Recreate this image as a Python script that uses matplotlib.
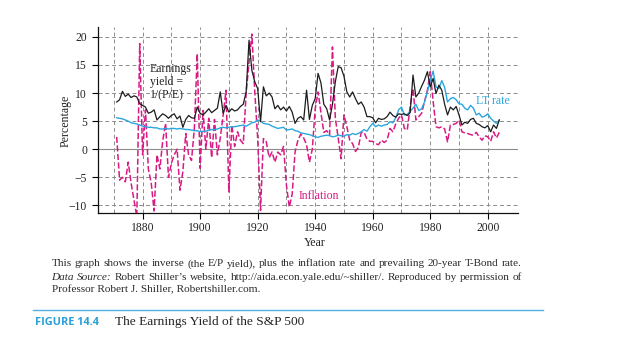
import matplotlib
matplotlib.use("Agg")
import matplotlib.pyplot as plt
from matplotlib.lines import Line2D

# ---------------------------------------------------------------- data
years = list(range(1871, 2005))

earnings_yield = [
    8.4, 8.8, 10.3, 9.4, 9.8, 9.2, 9.5, 9.3, 8.1, 7.8,      # 1871-1880
    7.5, 6.4, 6.6, 7.0, 5.2, 5.8, 6.3, 6.0, 5.5, 6.0,       # 1881-1890
    6.3, 5.4, 5.9, 3.9, 5.3, 6.0, 5.6, 5.5, 7.5, 6.4,       # 1891-1900
    6.1, 6.6, 7.2, 6.5, 6.9, 7.3, 10.2, 6.4, 7.8, 6.6,      # 1901-1910
    7.2, 6.8, 7.0, 7.6, 8.0, 10.2, 19.4, 14.0, 12.0, 10.8,  # 1911-1920
    4.9, 11.1, 9.5, 10.0, 9.3, 7.2, 7.8, 7.0, 7.5, 6.8,     # 1921-1930
    7.6, 6.6, 4.6, 5.5, 5.8, 5.2, 10.5, 5.3, 7.8, 9.0,      # 1931-1940
    13.5, 11.8, 8.0, 7.2, 5.2, 8.0, 12.0, 14.7, 14.5, 13.0, # 1941-1950
    10.2, 9.3, 10.2, 9.0, 8.0, 8.4, 7.5, 5.8, 5.8, 5.6,     # 1951-1960
    4.7, 5.5, 5.3, 5.4, 5.8, 6.6, 6.0, 5.7, 6.3, 6.2,       # 1961-1970
    6.3, 6.0, 6.5, 13.2, 9.3, 10.0, 11.2, 12.3, 13.8, 11.1, # 1971-1980
    12.6, 9.9, 11.4, 10.5, 8.0, 6.1, 7.5, 7.0, 7.6, 6.1,    # 1981-1990
    4.3, 4.8, 4.6, 5.3, 5.5, 4.6, 4.4, 4.0, 3.8, 4.2,       # 1991-2000
    3.1, 4.3, 3.7, 5.2,                                     # 2001-2004
]

inflation = [
    2.2, -5.5, -5.0, -5.8, -2.3, -6.0, -9.0, -12.0, 18.8, -1.0,  # 1871-1880
    7.0, -3.5, -6.0, -11.0, -1.0, -3.5, 1.5, 4.6, -5.0, -2.5,    # 1881-1890
    -1.0, 0.0, -7.3, -4.0, 2.8, -1.0, -2.0, 3.7, 17.0, -3.4,     # 1891-1900
    6.9, 0.0, 5.5, -1.5, 5.3, -1.0, 2.0, 6.0, 10.5, -7.6,        # 1901-1910
    4.3, 0.5, 3.1, 1.6, 1.0, 10.0, 15.5, 20.5, 10.2, 2.0,        # 1911-1920
    -10.9, 1.9, 1.3, -1.5, -0.5, -2.3, -0.5, -1.0, 0.5, -6.4,    # 1921-1930
    -10.3, -8.0, -0.5, 1.6, 2.7, 2.0, 0.8, -2.3, 0.0, 7.2,       # 1931-1940
    10.2, 6.5, 3.0, 3.3, 2.5, 18.2, 5.5, 2.0, -1.7, 6.1,         # 1941-1950
    4.0, 1.6, 1.0, -0.4, 0.3, 3.0, 3.0, 1.8, 1.4, 1.4,           # 1951-1960
    1.0, 0.8, 1.6, 1.2, 1.6, 3.7, 3.1, 4.5, 5.5, 6.1,            # 1961-1970
    3.7, 3.4, 7.5, 10.8, 5.2, 5.8, 6.4, 8.5, 10.5, 13.8,         # 1971-1980
    8.5, 4.0, 3.8, 4.0, 3.6, 1.3, 4.3, 4.4, 4.6, 5.2,            # 1981-1990
    3.1, 2.9, 2.8, 2.6, 2.5, 3.0, 2.2, 1.6, 2.4, 2.2,            # 1991-2000
    1.4, 3.1, 2.0, 3.0,                                          # 2001-2004
]

lt_rate = [
    5.6, 5.5, 5.4, 5.2, 5.0, 4.7, 4.6, 4.5, 4.3, 4.1,   # 1871-1880
    4.0, 3.9, 3.9, 3.8, 3.8, 3.6, 3.6, 3.7, 3.6, 3.7,   # 1881-1890
    3.7, 3.6, 3.7, 3.6, 3.5, 3.5, 3.4, 3.3, 3.3, 3.1,   # 1891-1900
    3.2, 3.2, 3.4, 3.5, 3.5, 3.6, 3.8, 3.9, 3.8, 3.9,   # 1901-1910
    4.0, 4.0, 4.1, 4.2, 4.3, 4.1, 4.4, 4.7, 4.8, 5.2,   # 1911-1920
    5.0, 4.6, 4.5, 4.4, 4.1, 3.9, 3.7, 3.8, 3.9, 3.4,   # 1921-1930
    3.5, 3.6, 3.3, 3.2, 2.9, 2.8, 2.7, 2.6, 2.4, 2.2,   # 1931-1940
    2.1, 2.3, 2.4, 2.5, 2.4, 2.2, 2.3, 2.5, 2.4, 2.3,   # 1941-1950
    2.6, 2.5, 2.8, 2.6, 2.8, 3.1, 3.5, 3.2, 4.0, 4.6,   # 1951-1960
    4.0, 4.3, 4.1, 4.3, 4.4, 4.9, 4.7, 5.6, 7.0, 7.5,   # 1961-1970
    6.1, 6.2, 6.7, 7.3, 8.0, 6.9, 7.2, 8.4, 10.2, 12.3, # 1971-1980
    13.9, 11.1, 10.8, 12.2, 11.0, 8.4, 9.0, 9.2, 8.8, 8.1,  # 1981-1990
    8.0, 7.3, 7.0, 7.8, 7.3, 6.1, 6.4, 5.7, 5.9, 6.3,   # 1991-2000
    5.5, 5.0, 4.6, 5.2,                                 # 2001-2004
]

year_ticks = [1880, 1900, 1920, 1940, 1960, 1980, 2000]
grid_years = list(range(1870, 2010, 10))
pct_ticks = [-10, -5, 0, 5, 10, 15, 20]

# ---------------------------------------------------------------- style
SERIF = ["Liberation Serif", "DejaVu Serif"]
BLACK = "#1c1c1c"
MAGENTA = "#d81b84"
CYAN = "#2aa7df"
GRID = "#8c8c8c"

W, H = 630, 342
fig = plt.figure(figsize=(W / 100, H / 100), dpi=100)
fig.patch.set_facecolor("white")


def px(x, y):
    """Pixel position (from top-left) to figure fraction."""
    return x / W, 1 - y / H


ax_left, ax_right, ax_top, ax_bottom = 98, 518, 27, 212.7
ax = fig.add_axes([ax_left / W, 1 - ax_bottom / H,
                   (ax_right - ax_left) / W, (ax_bottom - ax_top) / H])

ax.set_xlim(1864.5, 2010.5)
ax.set_ylim(-11.3, 21.75)

# grid: dashed everywhere, solid at zero
for yv in pct_ticks:
    if yv == 0:
        ax.axhline(yv, color=GRID, lw=0.8, zorder=1)
    else:
        ax.axhline(yv, color=GRID, lw=0.7, ls=(0, (4, 3)), zorder=1)
for xv in grid_years:
    ax.axvline(xv, color=GRID, lw=0.7, ls=(0, (4, 3)), zorder=1)

ax.plot(years, inflation, color=MAGENTA, lw=1.1, ls=(0, (4, 1.6)), zorder=3)
ax.plot(years, lt_rate, color=CYAN, lw=1.0, zorder=4)
ax.plot(years, earnings_yield, color=BLACK, lw=0.9, zorder=5)

ax.set_xticks(year_ticks)
ax.set_yticks(pct_ticks)
ax.set_xticklabels([str(y) for y in year_ticks])
ax.set_yticklabels([str(v).replace("-", "\u2212") for v in pct_ticks])
for lab in ax.get_xticklabels() + ax.get_yticklabels():
    lab.set_family(SERIF)
    lab.set_fontsize(8.4)
    lab.set_color("#222222")
ax.tick_params(axis="x", direction="out", length=4, width=0.8, pad=3)
ax.tick_params(axis="y", direction="out", length=4.5, width=0.8, pad=3.5)

for side in ("top", "right"):
    ax.spines[side].set_visible(False)
for side in ("left", "bottom"):
    ax.spines[side].set_linewidth(0.9)
    ax.spines[side].set_color("#111111")

# series labels
ax.text(1882.6, 11.9, "Earnings\nyield =\n1/(P/E)", family=SERIF, fontsize=8.5,
        color="#222222", va="center", ha="left", linespacing=1.15, zorder=6)
ax.text(1934.2, -8.3, "Inflation", family=SERIF, fontsize=8.5,
        color=MAGENTA, va="center", ha="left", zorder=6)
ax.text(1996.0, 8.5, "LT rate", family=SERIF, fontsize=8.5,
        color=CYAN, va="center", ha="left", zorder=6)

# axis titles
fig.text(*px(66, 121), "Percentage", family=SERIF, fontsize=8.6,
         rotation=90, ha="center", va="center", color="#222222")
fig.text(*px(315, 243.5), "Year", family=SERIF, fontsize=8.6,
         ha="center", va="center", color="#222222")

# ---------------------------------------------------------------- caption
CAP_SIZE = 8.1
CAP_COLOR = "#2b2b2b"
renderer = fig.canvas.get_renderer()


def justified_line(pieces, x0, x1, y):
    texts = []
    for word, style in pieces:
        t = fig.text(0, 1 - y / H, word, family=SERIF, fontsize=CAP_SIZE,
                     style=style, color=CAP_COLOR, ha="left", va="baseline")
        texts.append(t)
    widths = [t.get_window_extent(renderer).width for t in texts]
    gap = ((x1 - x0) - sum(widths)) / (len(texts) - 1)
    x = x0
    for t, w in zip(texts, widths):
        t.set_x(x / W)
        x += w + gap


line1 = ("This graph shows the inverse (the E/P yield), plus the inflation "
         "rate and prevailing 20-year T-Bond rate.")
justified_line([(w, "normal") for w in line1.split()], 51.5, 521.5, 266.3)

line2 = [("Data", "italic"), ("Source:", "italic"), ("Robert", "normal"),
         ("Shiller\u2019s", "normal"), ("website,", "normal"),
         ("http://aida.econ.yale.edu/~shiller/.", "normal"),
         ("Reproduced", "normal"), ("by", "normal"), ("permission", "normal"),
         ("of", "normal")]
justified_line(line2, 51.5, 521.5, 279.6)

fig.text(51.5 / W, 1 - 292.3 / H,
         "Professor Robert J. Shiller, Robertshiller.com.",
         family=SERIF, fontsize=CAP_SIZE, color=CAP_COLOR,
         ha="left", va="baseline")

# rule and figure title
fig.add_artist(Line2D([33 / W, 543 / W], [1 - 309.5 / H, 1 - 309.5 / H],
                      transform=fig.transFigure, color="#4fb2e2", lw=1.0))
fig.text(35 / W, 1 - 322.5 / H, "FIGURE 14.4", family=["Open Sans", "DejaVu Sans"],
         fontweight="bold", fontsize=7.9, color="#2a9fd8",
         ha="left", va="center")
fig.text(115 / W, 1 - 322.5 / H, "The Earnings Yield of the S&P 500",
         family=SERIF, fontsize=9.6, color="#222222", ha="left", va="center")

fig.savefig("out.png", dpi=100)
